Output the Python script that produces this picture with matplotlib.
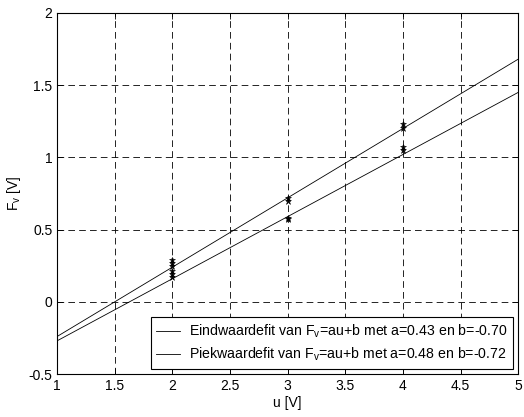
import numpy as np
import matplotlib
matplotlib.use("Agg")
import matplotlib.pyplot as plt

plt.rcParams['font.family'] = ['Liberation Sans', 'DejaVu Sans']
plt.rcParams['mathtext.fontset'] = 'custom'
plt.rcParams['mathtext.rm'] = 'Liberation Sans'
plt.rcParams['mathtext.it'] = 'Liberation Sans'

u_eind = [2, 2, 2, 3, 3, 4, 4]
f_eind = [0.21, 0.19, 0.17, 0.58, 0.57, 1.07, 1.05]
u_piek = [2, 2, 2, 3, 3, 4, 4]
f_piek = [0.29, 0.27, 0.25, 0.72, 0.70, 1.23, 1.20]

# fitparameters
a_eind, b_eind = 0.43, -0.70
a_piek, b_piek = 0.48, -0.72

xticks = [1, 1.5, 2, 2.5, 3, 3.5, 4, 4.5, 5]
yticks = [-0.5, 0, 0.5, 1, 1.5, 2]

fig = plt.figure(figsize=(5.24, 4.17), dpi=100)
ax = fig.add_axes([0.109, 0.103, 0.880, 0.866])

uu = np.array([1, 5])
ax.plot(u_eind, f_eind, '*', color='k', markersize=5, markeredgewidth=0.4)
ax.plot(u_piek, f_piek, '*', color='k', markersize=5, markeredgewidth=0.4)
l1, = ax.plot(uu, a_eind * uu + b_eind, color='k', lw=0.6)
l2, = ax.plot(uu, a_piek * uu + b_piek, color='k', lw=0.6)

ax.set_xlim(1, 5)
ax.set_ylim(-0.5, 2)
ax.set_xticks(xticks)
ax.set_xticklabels([f"{t:g}" for t in xticks])
ax.set_yticks(yticks)
ax.set_yticklabels([f"{t:g}" for t in yticks])
ax.tick_params(direction='in', top=True, right=True, labelsize=10, length=4, width=0.6)
ax.grid(True, color='k', linestyle=(0, (8, 5)), linewidth=0.6)
for s in ax.spines.values():
    s.set_linewidth(0.8)

ax.set_xlabel("u [V]", fontsize=10, labelpad=2)
ax.set_ylabel("F$_\\mathrm{v}$ [V]", fontsize=10, labelpad=4)

leg = ax.legend([l1, l2],
                ["Eindwaardefit van F$_\\mathrm{v}$=au+b met a=0.43 en b=-0.70",
                 "Piekwaardefit van F$_\\mathrm{v}$=au+b met a=0.48 en b=-0.72"],
                loc='lower right', fontsize=10.2, fancybox=False, framealpha=1,
                edgecolor='k', handlelength=1.7, handletextpad=0.6,
                borderaxespad=0.35, labelspacing=0.4)
leg.get_frame().set_linewidth(0.8)

fig.savefig("out.png", dpi=100)
